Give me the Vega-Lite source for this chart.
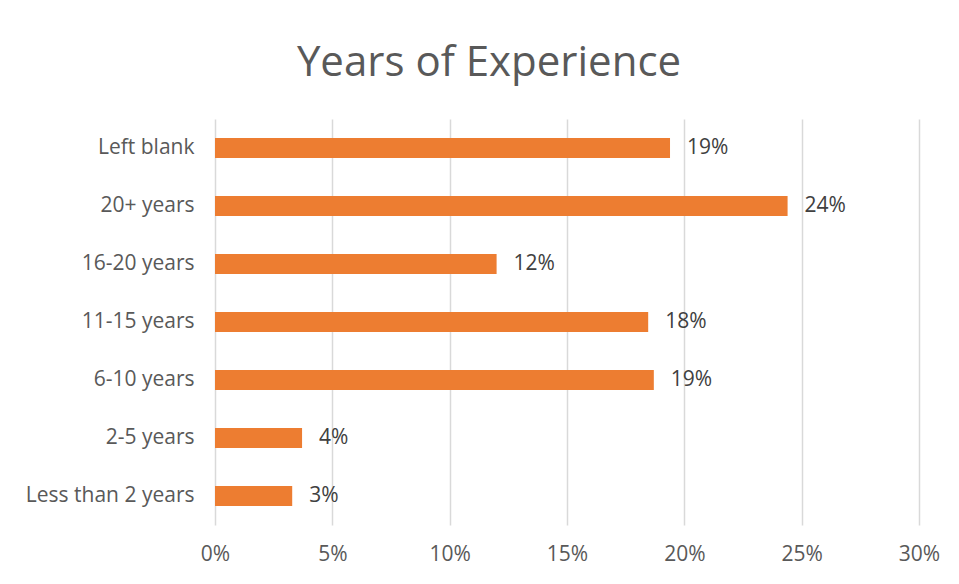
{
  "$schema": "https://vega.github.io/schema/vega-lite/v6.json",
  "autosize": {"type": "none"},
  "width": 704,
  "height": 406,
  "padding": {"left": 215, "top": 119, "right": 40, "bottom": 59},
  "background": "white",
  "title": {
    "text": "Years of Experience",
    "font": "Open Sans",
    "fontSize": 42,
    "fontWeight": "normal",
    "color": "#595959",
    "anchor": "middle",
    "baseline": "alphabetic",
    "dx": -78,
    "offset": 1
  },
  "data": {
    "values": [
      {"category": "Left blank", "value": 0.1939},
      {"category": "20+ years", "value": 0.244},
      {"category": "16-20 years", "value": 0.12},
      {"category": "11-15 years", "value": 0.1846},
      {"category": "6-10 years", "value": 0.187},
      {"category": "2-5 years", "value": 0.0371},
      {"category": "Less than 2 years", "value": 0.0329}
    ]
  },
  "encoding": {
    "y": {
      "field": "category",
      "type": "nominal",
      "sort": null,
      "title": null,
      "scale": {"paddingInner": 0.655, "paddingOuter": 0.3275},
      "axis": {
        "domain": false,
        "ticks": false,
        "labelFont": "Open Sans",
        "labelFontSize": 21,
        "labelColor": "#595959",
        "labelPadding": 21
      }
    },
    "x": {
      "field": "value",
      "type": "quantitative",
      "title": null,
      "scale": {"domain": [0, 0.3], "nice": false},
      "axis": {
        "format": ".0%",
        "values": [0, 0.05, 0.1, 0.15, 0.2, 0.25, 0.3],
        "domain": false,
        "ticks": false,
        "grid": true,
        "gridColor": "#d9d9d9",
        "gridWidth": 1.5,
        "labelFlush": false,
        "labelFont": "Open Sans",
        "labelFontSize": 21,
        "labelColor": "#595959",
        "labelPadding": 18
      }
    }
  },
  "layer": [
    {"mark": {"type": "bar", "color": "#ED7D31"}},
    {
      "mark": {"type": "text", "align": "left", "dx": 17, "font": "Open Sans", "fontSize": 21, "color": "#404040"},
      "encoding": {"text": {"field": "value", "type": "quantitative", "format": ".0%"}}
    }
  ],
  "config": {"view": {"stroke": null}}
}
